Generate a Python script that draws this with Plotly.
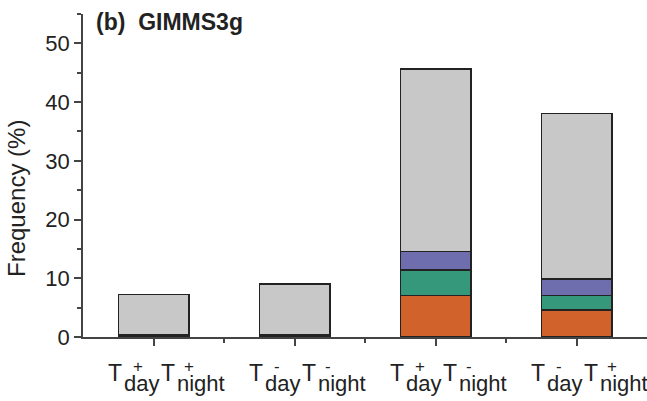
import plotly.graph_objects as go

# category labels: T(day sign) T(night sign)
day_signs = ["+", "-", "+", "-"]
night_signs = ["+", "-", "-", "+"]
categories = ["T%sday T%snight" % (d, n) for d, n in zip(day_signs, night_signs)]

orange_vals = [0.15, 0.15, 7.1, 4.6]
green_vals = [0.1, 0.1, 4.3, 2.5]
purple_vals = [0.1, 0.1, 3.2, 2.8]
gray_vals = [6.85, 8.65, 31.0, 28.2]

series = [
    (orange_vals, "#D2622B"),
    (green_vals, "#36987A"),
    (purple_vals, "#6E6DAE"),
    (gray_vals, "#C8C8C9"),
]

xpos = list(range(len(categories)))
fig = go.Figure()
for vals, col in series:
    fig.add_trace(go.Bar(x=xpos, y=vals, marker=dict(color=col, line=dict(color="#222222", width=1.5)),
                         width=0.5, showlegend=False, hoverinfo="skip"))

FONT = "Liberation Sans, Arial"
TXT = "#222222"
annots = []
# x tick labels built as stacked super/subscript text
for i, (d, n) in enumerate(zip(day_signs, night_signs)):
    parts = [
        ("T", 23, -47, -36, None),
        (d, 17, -22, -29, 11),
        ("day", 22, -31, -46, None),
        ("T", 23, 6, -36, None),
        (n, 17, 29, -29, 11),
        ("night", 22, 22, -46, None),
    ]
    for txt, sz, xs, ys, h in parts:
        a = dict(text=txt, x=i, y=0, xref="x", yref="paper", xanchor="left", yanchor="middle",
                 xshift=xs, yshift=ys, showarrow=False, borderpad=0,
                 font=dict(size=sz, family=FONT, color=TXT))
        if h:
            a["height"] = h
        annots.append(a)

annots.append(dict(text="<b>(b)  GIMMS3g</b>", x=12 / 564, y=1, xref="paper", yref="paper",
                   xanchor="left", yanchor="middle", yshift=-8, showarrow=False, borderpad=0,
                   font=dict(size=23, family=FONT, color=TXT)))
annots.append(dict(text="Frequency (%)", x=(17 - 83) / 564, y=(337 - 199) / 323, xref="paper", yref="paper",
                   xanchor="center", yanchor="middle", textangle=-90, showarrow=False, borderpad=0,
                   font=dict(size=24, family=FONT, color=TXT)))

fig.update_layout(
    barmode="stack",
    width=647, height=401,
    margin=dict(l=83, r=0, t=14, b=64),
    plot_bgcolor="white", paper_bgcolor="white",
    font=dict(family=FONT, color=TXT),
    xaxis=dict(range=[-0.5, 3.5], tickvals=xpos, showticklabels=False, showgrid=False, zeroline=False,
               automargin=False,
               showline=True, linecolor="#444444", linewidth=1.5,
               ticks="outside", ticklen=7, tickwidth=1.5, tickcolor="#444444",
               minor=dict(tickvals=[0.5, 1.5, 2.5], ticks="outside", ticklen=4, tickwidth=1.5, tickcolor="#444444")),
    yaxis=dict(range=[0, 55], tickvals=[0, 10, 20, 30, 40, 50], showgrid=False, zeroline=False,
               automargin=False,
               showline=True, linecolor="#444444", linewidth=1.5,
               ticks="outside", ticklen=7, tickwidth=1.5, tickcolor="#444444",
               tickfont=dict(size=22, color=TXT),
               minor=dict(tickvals=[5, 15, 25, 35, 45, 55], ticks="outside", ticklen=4, tickwidth=1.5, tickcolor="#444444")),
    annotations=annots,
)

fig.write_html("out.html", config={"displayModeBar": False},
               post_script="document.body.style.margin='0px';document.body.style.overflow='hidden';")
